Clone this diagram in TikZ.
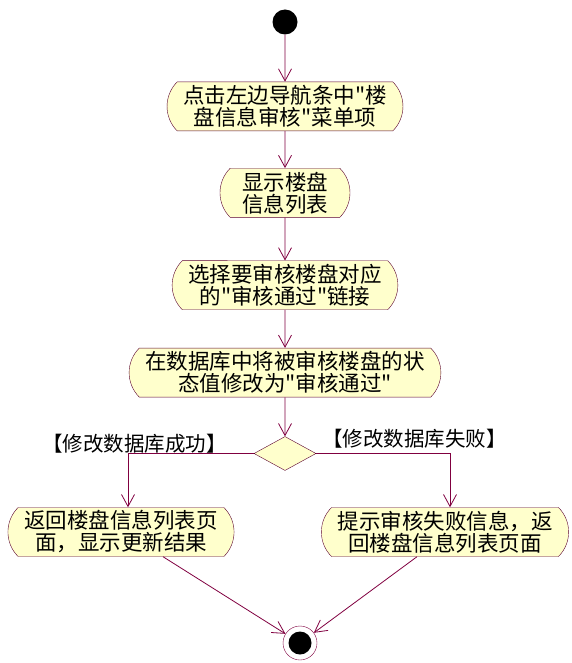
\documentclass[tikz,border=0pt]{standalone}
\usepackage{fontspec}
\setmainfont{Noto Sans CJK SC}[Ligatures=TeXOff]
\usetikzlibrary{shapes.misc,shapes.geometric,arrows.meta,positioning}
\definecolor{flowline}{RGB}{128,0,64}
\definecolor{actfill}{RGB}{255,255,204}
\tikzset{
	>={Straight Barb[length=12pt,width=13pt]},
	activity/.style={rounded rectangle, rounded rectangle arc length=90, draw=flowline!70!black, fill=actfill, minimum height=49pt, inner xsep=9pt, inner ysep=3pt, font=\fontsize{21.5pt}{22pt}\selectfont, align=center},
	decision/.style={diamond, draw=flowline!70!black, fill=actfill, minimum width=62pt, minimum height=34pt, inner sep=0pt},
	guard/.style={font=\fontsize{20.5pt}{22pt}\selectfont, inner sep=0pt},
	startdot/.style={circle, fill=black, minimum size=25pt, inner sep=0pt},
	endring/.style={circle, draw=flowline, fill=white, minimum size=34pt, inner sep=0pt},
	enddot/.style={circle, fill=black, minimum size=23pt, inner sep=0pt},
	flow/.style={->, draw=flowline, line width=0.8pt}
}

\begin{document}
\begin{tikzpicture}[x=1pt, y=1pt]
	\useasboundingbox (0,0) rectangle (571,-663);

	% --- Nodes ---
	\node[startdot] (start) at (285,-22) {};
	\node[activity, below=47pt of start] (menu) {点击左边导航条中"楼\\盘信息审核"菜单项};
	\node[activity, minimum width=148pt, below=37pt of menu] (list) {显示楼盘\\信息列表};
	\node[activity, below=43pt of list] (select) {选择要审核楼盘对应\\的"审核通过"链接};
	\node[activity, below=38pt of select] (update) {在数据库中将被审核楼盘的状\\态值修改为"审核通过"};
	\node[decision, below=39pt of update] (check) {};

	\node[guard, left=27pt of check, yshift=10pt] (okguard) {【修改数据库成功】};
	\node[guard, right=6pt of check, yshift=15pt] (failguard) {【修改数据库失败】};

	\node[activity] (back) at (121,-532) {返回楼盘信息列表页\\面，显示更新结果};
	\node[activity] (fail) at (445,-532) {提示审核失败信息，返\\回楼盘信息列表页面};

	\node[endring] (finish) at (300,-643) {};
	\node[enddot] (finishdot) at (finish) {};

	% --- Connections ---
	\draw[flow] (start) -- (menu);
	\draw[flow] (menu) -- (list);
	\draw[flow] (list) -- (select);
	\draw[flow] (select) -- (update);
	\draw[flow] (update) -- (check);

	\draw[flow] (check.west) -| ([xshift=7pt]back.north);
	\draw[flow] (check.east) -| ([xshift=5pt]fail.north);

	\draw[flow] ([xshift=42pt]back.south) -- (finish);
	\draw[flow] ([xshift=-28pt]fail.south) -- (finish);

\end{tikzpicture}
\end{document}
